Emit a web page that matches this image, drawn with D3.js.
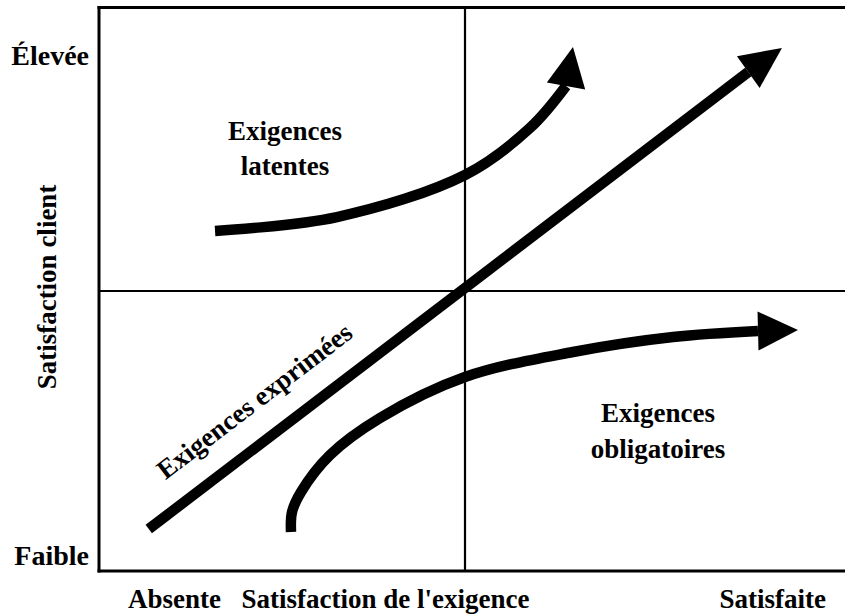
<!DOCTYPE html>
<html>
<head>
<meta charset="utf-8">
<script src="https://cdn.jsdelivr.net/npm/d3@7"></script>
<style>
  html, body { margin: 0; padding: 0; background: #fff; }
  svg { display: block; }
  text { font-family: "Liberation Serif", "Times New Roman", serif; font-weight: bold; fill: #000; }
</style>
</head>
<body>
<svg id="chart" width="845" height="615"></svg>
<script>
// ---- Data (chart units: x = satisfaction de l'exigence 0..100, y = satisfaction client 0..100) ----
const xTickLabels = ["Absente", "Satisfaction de l'exigence", "Satisfaite"];
const yTickLabels = ["Faible", "Élevée"];
const yAxisTitle = "Satisfaction client";
const quadrantSplit = [50, 50];

const seriesNames = ["Exigences exprimées", "Exigences latentes", "Exigences obligatoires"];

const exprimeesShaft = [[6.8, 7.5], [88.7, 89.1]];
const exprimeesTip = [93.3, 93.4];

const latentesShaft = [
  [15.85, 60.71], [32.51, 63.21], [50.0, 70.71], [58.88, 79.11], [63.8, 86.61]
];
const latentesTip = [64.75, 93.57];

const obligatoiresShaft = [
  [26.23, 6.96], [26.37, 10.54], [27.6, 14.11], [31.56, 20.71], [38.39, 27.32], [50.0, 34.64],
  [64.75, 39.11], [78.42, 41.79], [90.03, 42.86]
];
const obligatoiresTip = [95.49, 43.04];

// ---- Layout ----
const frame = { left: 99, top: 7.5, bottom: 571, right: 845 };
const x = d3.scaleLinear().domain([0, 100]).range([99, 831]);
const y = d3.scaleLinear().domain([0, 100]).range([571, 11]);
const FONT = 27;
const STROKE = 10.5;
const HEAD_W = 39;

const svg = d3.select("#chart");

// Frame (left, top, bottom)
svg.append("line").attr("x1", frame.left).attr("x2", frame.left)
  .attr("y1", frame.top - 1.5).attr("y2", frame.bottom + 1.5)
  .attr("stroke", "#000").attr("stroke-width", 3);
svg.append("line").attr("x1", frame.left - 1.5).attr("x2", frame.right)
  .attr("y1", frame.top).attr("y2", frame.top)
  .attr("stroke", "#000").attr("stroke-width", 3);
svg.append("line").attr("x1", frame.left - 1.5).attr("x2", frame.right)
  .attr("y1", frame.bottom).attr("y2", frame.bottom)
  .attr("stroke", "#000").attr("stroke-width", 3);

// Quadrant lines
svg.append("line").attr("x1", x(quadrantSplit[0])).attr("x2", x(quadrantSplit[0]))
  .attr("y1", frame.top).attr("y2", frame.bottom)
  .attr("stroke", "#000").attr("stroke-width", 2.2);
svg.append("line").attr("x1", frame.left).attr("x2", frame.right)
  .attr("y1", y(quadrantSplit[1])).attr("y2", y(quadrantSplit[1]))
  .attr("stroke", "#000").attr("stroke-width", 2.2);

// Arrows
const line = d3.line().x(d => x(d[0])).y(d => y(d[1])).curve(d3.curveCatmullRom.alpha(0.5));

function arrow(shaft, tip) {
  svg.append("path").attr("d", line(shaft))
    .attr("fill", "none").attr("stroke", "#000").attr("stroke-width", STROKE)
    .attr("stroke-linecap", "butt").attr("stroke-linejoin", "round");
  const last = shaft[shaft.length - 1];
  const bx = x(last[0]), by = y(last[1]);
  const tx = x(tip[0]), ty = y(tip[1]);
  const dx = tx - bx, dy = ty - by;
  const len = Math.hypot(dx, dy);
  const px = -dy / len * HEAD_W / 2, py = dx / len * HEAD_W / 2;
  svg.append("path")
    .attr("d", `M${tx},${ty}L${bx + px},${by + py}L${bx - px},${by - py}Z`)
    .attr("fill", "#000");
}
arrow(exprimeesShaft, exprimeesTip);
arrow(latentesShaft, latentesTip);
arrow(obligatoiresShaft, obligatoiresTip);

// Y tick labels
svg.append("text").attr("x", 89).attr("y", 565).attr("text-anchor", "end")
  .style("font-size", "28px").text(yTickLabels[0]);
svg.append("text").attr("x", 89).attr("y", 65).attr("text-anchor", "end")
  .style("font-size", "28px").text(yTickLabels[1]);

// X labels
svg.append("text").attr("x", 174.5).attr("y", 608).attr("text-anchor", "middle")
  .style("font-size", FONT + "px").text(xTickLabels[0]);
svg.append("text").attr("x", 385.5).attr("y", 608).attr("text-anchor", "middle")
  .style("font-size", FONT + "px").text(xTickLabels[1]);
svg.append("text").attr("x", 826).attr("y", 608).attr("text-anchor", "end")
  .style("font-size", FONT + "px").text(xTickLabels[2]);

// Y title
svg.append("text").attr("transform", "translate(56,287) rotate(-90)")
  .attr("text-anchor", "middle").style("font-size", FONT + "px").text(yAxisTitle);

// Quadrant labels
function twoLine(cx, y1, y2, a, b) {
  svg.append("text").attr("x", cx).attr("y", y1).attr("text-anchor", "middle")
    .style("font-size", FONT + "px").text(a);
  svg.append("text").attr("x", cx).attr("y", y2).attr("text-anchor", "middle")
    .style("font-size", FONT + "px").text(b);
}
const [w1, w2] = seriesNames[1].split(" ");
twoLine(285, 140, 175, w1, w2);
const [o1, o2] = seriesNames[2].split(" ");
twoLine(658, 422, 458, o1, o2);

// Diagonal label
const a0 = exprimeesShaft[0], a1 = exprimeesShaft[1];
const ang = Math.atan2(y(a1[1]) - y(a0[1]), x(a1[0]) - x(a0[0])) * 180 / Math.PI;
const labelPos = [21.2, 30.4];
svg.append("text")
  .attr("transform", `translate(${x(labelPos[0])},${y(labelPos[1])}) rotate(${ang})`)
  .attr("text-anchor", "middle").attr("dy", "0.35em")
  .style("font-size", FONT + "px").text(seriesNames[0]);
</script>
</body>
</html>
